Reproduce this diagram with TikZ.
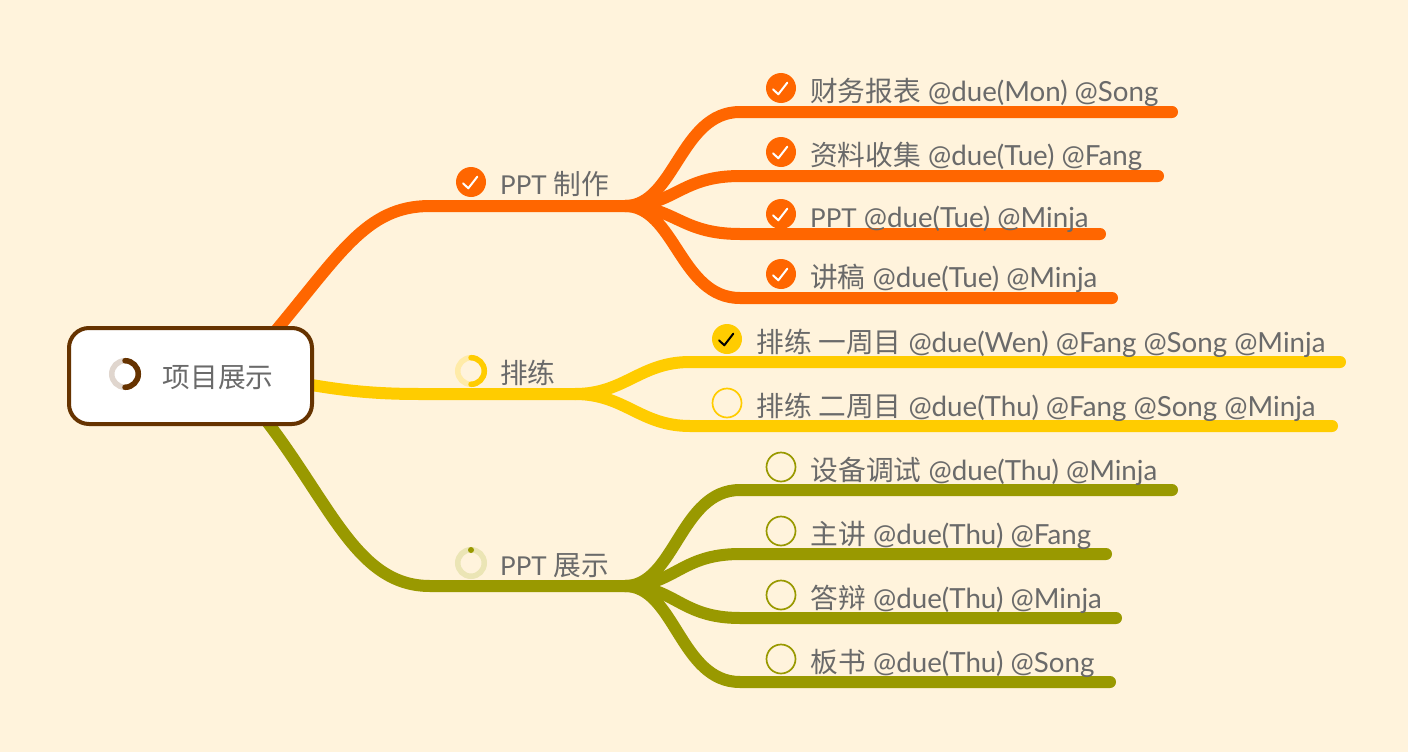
\documentclass[tikz,border=0pt]{standalone}
\usepackage{fontspec}
\setmainfont{Lato}
\newfontfamily\cjk{Noto Sans CJK SC}
\usetikzlibrary{calc}
\definecolor{bgc}{HTML}{FFF3DC}
\definecolor{oc}{HTML}{FF6600}
\definecolor{yc}{HTML}{FFCC00}
\definecolor{gc}{HTML}{999900}
\definecolor{bc}{HTML}{663300}
\definecolor{tc}{HTML}{6A6A6A}
\definecolor{rl}{HTML}{E0D6CE}
\definecolor{yl}{HTML}{FFEBA8}
\definecolor{gl}{HTML}{EBE5B5}
\pgfdeclarelayer{lines}
\pgfsetlayers{lines,main}
\newcommand{\zh}[1]{{\cjk #1}}
\newcommand{\ppt}{{\fontsize{26}{26}\selectfont PPT}}
\tikzset{
 lbl/.style={anchor=base west,inner sep=0pt,text=tc,font=\fontsize{27.7}{27.7}\selectfont},
 done/.style={circle,fill=#1,minimum size=30pt,inner sep=0pt},
 open/.style={circle,draw=#1,line width=1.7pt,minimum size=29pt,inner sep=0pt},
 ringbase/.style={circle,draw=#1,line width=5.5pt,minimum size=26.5pt,inner sep=0pt},
 wire/.style={line width=12pt,line cap=round,draw=#1},
 chk/.pic={\draw[line width=2pt,line cap=round,line join=round,pic actions] (-8,1.3)--(-2.7,6.3)--(6.3,-5.3);},
 halfr/.pic={\draw[line width=5.5pt,line cap=round,pic actions] (0,-13.3) arc (-90:90:13.3);}
}
\begin{document}
\begin{tikzpicture}[x=1pt,y=-1pt]
\useasboundingbox (0,0) rectangle (1408,752);
\begin{pgfonlayer}{lines}
\fill[bgc] (0,0) rectangle (1408,752);
\end{pgfonlayer}
% root
\node[draw=bc,line width=4pt,fill=white,rounded corners=20pt,minimum width=243pt,minimum height=96pt,inner sep=0pt] (root) at (190.5,376) {};
\coordinate (r1) at (268,340);
\coordinate (r2) at (300,383);
\coordinate (r3) at (258,410);
\node[ringbase=rl] (ri) at (125,374) {};
\pic[draw=bc] at (ri) {halfr};
\node[lbl] (rt) at (162.5,387) {\zh{项目展示}};
% level 1 labels and icons
\node[done=oc] (ia) at (471,182) {};
\pic[draw=white] at (ia) {chk};
\node[lbl] (ta) at (500,194.5) {\ppt{} \zh{制作}};
\node[ringbase=yl] (ib) at (471,371) {};
\pic[draw=yc] at (ib) {halfr};
\node[lbl] (tb) at (500,383.5) {\zh{排练}};
\node[ringbase=gl] (ic) at (471,563) {};
\node[circle,fill=gc,minimum size=6pt,inner sep=0pt] (icd) at (471,550) {};
\node[lbl] (tc) at (500,575.5) {\ppt{} \zh{展示}};
\coordinate (a0) at (430,206); \coordinate (a1) at (625,206);
\coordinate (b0) at (420,394); \coordinate (b1) at (575,394);
\coordinate (c0) at (430,586); \coordinate (c1) at (625,586);
% orange children
\foreach \n/\y/\t in {1/88/{\zh{财务报表} @due(Mon) @Song},2/152/{\zh{资料收集} @due(Tue) @Fang},3/214/{\ppt{} @due(Tue) @Minja},4/274/{\zh{讲稿} @due(Tue) @Minja}}{
 \node[done=oc] (ia\n) at (781,\y) {};
 \pic[draw=white] at (ia\n) {chk};
 \node[lbl] (ta\n) at (810,\y+13) {\t};
}
\coordinate (as1) at (740,112); \coordinate (ae1) at (1172,112);
\coordinate (as2) at (740,176); \coordinate (ae2) at (1158,176);
\coordinate (as3) at (740,234); \coordinate (ae3) at (1100,234);
\coordinate (as4) at (740,298); \coordinate (ae4) at (1112,298);
% yellow children
\node[done=yc] (ib1) at (727,339) {};
\pic[draw=black] at (ib1) {chk};
\node[lbl] (tb1) at (756.5,352) {\zh{排练 一周目} @due(Wen) @Fang @Song @Minja};
\node[open=yc] (ib2) at (727,403) {};
\node[lbl] (tb2) at (756.5,416) {\zh{排练 二周目} @due(Thu) @Fang @Song @Minja};
\coordinate (bs1) at (690,362); \coordinate (be1) at (1340,362);
\coordinate (bs2) at (690,426); \coordinate (be2) at (1332,426);
% olive children
\foreach \n/\y/\t in {1/467/{\zh{设备调试} @due(Thu) @Minja},2/531/{\zh{主讲} @due(Thu) @Fang},3/595/{\zh{答辩} @due(Thu) @Minja},4/659/{\zh{板书} @due(Thu) @Song}}{
 \node[open=gc] (ic\n) at (781,\y) {};
 \node[lbl] (tc\n) at (810.5,\y+13) {\t};
}
\coordinate (cs1) at (740,490); \coordinate (ce1) at (1172,490);
\coordinate (cs2) at (740,554); \coordinate (ce2) at (1106,554);
\coordinate (cs3) at (740,618); \coordinate (ce3) at (1116,618);
\coordinate (cs4) at (740,682); \coordinate (ce4) at (1110,682);
\begin{pgfonlayer}{lines}
\draw[wire=oc] (r1) .. controls (340,255) and (365,206) .. (a0) -- (a1);
\draw[wire=yc] (r2) .. controls (340,390) and (370,394) .. (b0) -- (b1);
\draw[wire=gc] (r3) .. controls (330,500) and (355,586) .. (c0) -- (c1);
\foreach \i in {1,2,3,4}{
 \draw[wire=oc] (a1) .. controls +(50,0) and ($(as\i)+(-60,0)$) .. (as\i) -- (ae\i);
 \draw[wire=gc] (c1) .. controls +(50,0) and ($(cs\i)+(-60,0)$) .. (cs\i) -- (ce\i);
}
\foreach \i in {1,2}{
 \draw[wire=yc] (b1) .. controls +(50,0) and ($(bs\i)+(-50,0)$) .. (bs\i) -- (be\i);
}
\end{pgfonlayer}
\end{tikzpicture}
\end{document}
